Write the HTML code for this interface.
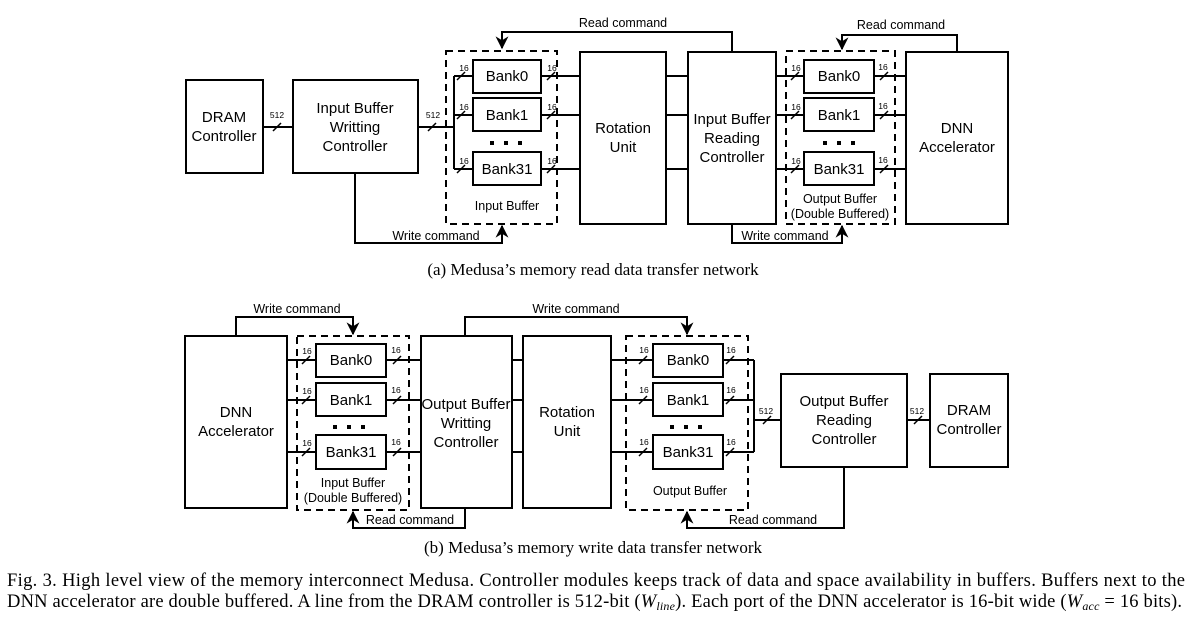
<!DOCTYPE html>
<html><head><meta charset="utf-8"><style>
html,body{margin:0;padding:0;background:#fff;width:1193px;height:627px;overflow:hidden}
svg{display:block}
text{font-family:"Liberation Sans",sans-serif;fill:#000}
.s{font-size:15px}
.m{font-size:12.5px}
.t{font-size:8.5px}
.f{font-family:"Liberation Serif",serif;font-size:17px}
.g{font-family:"Liberation Serif",serif;font-size:18.5px}
</style></head><body>
<svg width="1193" height="627" viewBox="0 0 1193 627">
<defs>
<marker id="ah" viewBox="0 0 10 10" refX="9" refY="5" markerWidth="6.5" markerHeight="6.5" orient="auto"><path d="M0,0 L10,5 L0,10 L3,5 z" fill="#000"/></marker>
</defs>
<g fill="none" stroke="#000" stroke-width="2">
<rect x="186" y="80" width="77" height="93"/>
<rect x="293" y="80" width="125" height="93"/>
<rect x="580" y="52" width="86" height="172"/>
<rect x="688" y="52" width="88" height="172"/>
<rect x="906" y="52" width="102" height="172"/>
<rect x="446" y="51" width="111" height="173" stroke-dasharray="7,5"/>
<rect x="786" y="51" width="109" height="173" stroke-dasharray="7,5"/>
<rect x="473" y="60" width="68" height="33"/>
<rect x="473" y="98" width="68" height="33"/>
<rect x="473" y="152" width="68" height="33"/>
<rect x="804" y="60" width="70" height="33"/>
<rect x="804" y="98" width="70" height="33"/>
<rect x="804" y="152" width="70" height="33"/>
<path d="M263,127H293 M418,127H454 M454,76V169 M454,76H473 M454,115H473 M454,169H473 M541,76H580 M541,115H580 M541,169H580 M666,76H688 M666,115H688 M666,169H688 M776,76H804 M776,115H804 M776,169H804 M874,76H906 M874,115H906 M874,169H906"/>
<path d="M732,52V32H502V48" marker-end="url(#ah)"/>
<path d="M957,52V35H842V49" marker-end="url(#ah)"/>
<path d="M355,173V243H502V226" marker-end="url(#ah)"/>
<path d="M732,224V243H842V226" marker-end="url(#ah)"/>
<rect x="185" y="336" width="102" height="172"/>
<rect x="421" y="336" width="91" height="172"/>
<rect x="523" y="336" width="88" height="172"/>
<rect x="781" y="374" width="126" height="93"/>
<rect x="930" y="374" width="78" height="93"/>
<rect x="297" y="336" width="112" height="174" stroke-dasharray="7,5"/>
<rect x="626" y="336" width="122" height="174" stroke-dasharray="7,5"/>
<rect x="316" y="344" width="70" height="33"/>
<rect x="316" y="383" width="70" height="33"/>
<rect x="316" y="435" width="70" height="34"/>
<rect x="653" y="344" width="70" height="33"/>
<rect x="653" y="383" width="70" height="33"/>
<rect x="653" y="435" width="70" height="34"/>
<path d="M287,360H316 M287,400H316 M287,452H316 M386,360H421 M386,400H421 M386,452H421 M512,360H523 M512,400H523 M512,452H523 M611,360H653 M611,400H653 M611,452H653 M723,360H754 M723,400H754 M723,452H754 M754,360V452 M754,420H781 M907,420H930"/>
<path d="M236,336V317H353V334" marker-end="url(#ah)"/>
<path d="M465,336V317H687V334" marker-end="url(#ah)"/>
<path d="M465,508V528H353V512" marker-end="url(#ah)"/>
<path d="M844,467V528H687V512" marker-end="url(#ah)"/>
</g>
<g stroke="#000" stroke-width="1.5">
<path d="M273,131l8,-8 M428,131l8,-8
M457,80l8,-8 M457,119l8,-8 M457,173l8,-8
M547,80l8,-8 M547,119l8,-8 M547,173l8,-8
M791,80l8,-8 M791,119l8,-8 M791,173l8,-8
M880,80l8,-8 M880,119l8,-8 M880,173l8,-8
M302,364l8,-8 M302,404l8,-8 M302,456l8,-8
M393,364l8,-8 M393,404l8,-8 M393,456l8,-8
M639,364l8,-8 M639,404l8,-8 M639,456l8,-8
M726,364l8,-8 M726,404l8,-8 M726,456l8,-8
M763,424l8,-8 M914,424l8,-8"/>
</g>
<g fill="#000">
<rect x="490" y="141" width="4" height="4"/><rect x="504" y="141" width="4" height="4"/><rect x="518" y="141" width="4" height="4"/>
<rect x="823" y="141" width="4" height="4"/><rect x="837" y="141" width="4" height="4"/><rect x="851" y="141" width="4" height="4"/>
<rect x="333" y="425" width="4" height="4"/><rect x="347" y="425" width="4" height="4"/><rect x="361" y="425" width="4" height="4"/>
<rect x="670" y="425" width="4" height="4"/><rect x="684" y="425" width="4" height="4"/><rect x="698" y="425" width="4" height="4"/>
</g>
<g text-anchor="middle">
<text class="t" x="277" y="118">512</text>
<text class="t" x="433" y="118">512</text>
<text class="t" x="464" y="71">16</text><text class="t" x="464" y="110">16</text><text class="t" x="464" y="164">16</text>
<text class="t" x="552" y="71">16</text><text class="t" x="552" y="110">16</text><text class="t" x="552" y="164">16</text>
<text class="t" x="796" y="71">16</text><text class="t" x="796" y="110">16</text><text class="t" x="796" y="164">16</text>
<text class="t" x="883" y="70">16</text><text class="t" x="883" y="109">16</text><text class="t" x="883" y="163">16</text>
<text class="t" x="307" y="354">16</text><text class="t" x="307" y="394">16</text><text class="t" x="307" y="446">16</text>
<text class="t" x="396" y="353">16</text><text class="t" x="396" y="393">16</text><text class="t" x="396" y="445">16</text>
<text class="t" x="644" y="353">16</text><text class="t" x="644" y="393">16</text><text class="t" x="644" y="445">16</text>
<text class="t" x="731" y="353">16</text><text class="t" x="731" y="393">16</text><text class="t" x="731" y="445">16</text>
<text class="t" x="766" y="414">512</text><text class="t" x="917" y="414">512</text>

<text class="s" x="224" y="122">DRAM</text><text class="s" x="224" y="141">Controller</text>
<text class="s" x="355" y="113">Input Buffer</text><text class="s" x="355" y="132">Writting</text><text class="s" x="355" y="151">Controller</text>
<text class="s" x="507" y="81">Bank0</text><text class="s" x="507" y="120">Bank1</text><text class="s" x="507" y="174">Bank31</text>
<text class="m" x="507" y="210">Input Buffer</text>
<text class="s" x="623" y="133">Rotation</text><text class="s" x="623" y="152">Unit</text>
<text class="s" x="732" y="124">Input Buffer</text><text class="s" x="732" y="143">Reading</text><text class="s" x="732" y="162">Controller</text>
<text class="s" x="839" y="81">Bank0</text><text class="s" x="839" y="120">Bank1</text><text class="s" x="839" y="174">Bank31</text>
<text class="m" x="840" y="203">Output Buffer</text><text class="m" x="840" y="218">(Double Buffered)</text>
<text class="s" x="957" y="133">DNN</text><text class="s" x="957" y="152">Accelerator</text>
<text class="m" x="623" y="27">Read command</text>
<text class="m" x="901" y="29">Read command</text>
<text class="m" x="436" y="240">Write command</text>
<text class="m" x="785" y="240">Write command</text>
<text class="f" x="593" y="275">(a) Medusa’s memory read data transfer network</text>

<text class="s" x="236" y="417">DNN</text><text class="s" x="236" y="436">Accelerator</text>
<text class="s" x="351" y="365">Bank0</text><text class="s" x="351" y="405">Bank1</text><text class="s" x="351" y="457">Bank31</text>
<text class="m" x="353" y="487">Input Buffer</text><text class="m" x="353" y="502">(Double Buffered)</text>
<text class="s" x="466" y="409">Output Buffer</text><text class="s" x="466" y="428">Writting</text><text class="s" x="466" y="447">Controller</text>
<text class="s" x="567" y="417">Rotation</text><text class="s" x="567" y="436">Unit</text>
<text class="s" x="688" y="365">Bank0</text><text class="s" x="688" y="405">Bank1</text><text class="s" x="688" y="457">Bank31</text>
<text class="m" x="690" y="495">Output Buffer</text>
<text class="s" x="844" y="406">Output Buffer</text><text class="s" x="844" y="425">Reading</text><text class="s" x="844" y="444">Controller</text>
<text class="s" x="969" y="415">DRAM</text><text class="s" x="969" y="434">Controller</text>
<text class="m" x="297" y="313">Write command</text>
<text class="m" x="576" y="313">Write command</text>
<text class="m" x="410" y="524">Read command</text>
<text class="m" x="773" y="524">Read command</text>
<text class="f" x="593" y="553">(b) Medusa’s memory write data transfer network</text>
</g>
<text class="g" x="7" y="586" textLength="1178" lengthAdjust="spacing">Fig. 3.  High level view of the memory interconnect Medusa. Controller modules keeps track of data and space availability in buffers. Buffers next to the</text>
<text class="g" x="7" y="607" textLength="1175" lengthAdjust="spacing">DNN accelerator are double buffered. A line from the DRAM controller is 512-bit (<tspan font-style="italic">W<tspan font-size="12" dy="3">line</tspan></tspan><tspan dy="-3">). Each port of the DNN accelerator is 16-bit wide (</tspan><tspan font-style="italic">W<tspan font-size="12" dy="3">acc</tspan></tspan><tspan dy="-3"> = 16 bits).</tspan></text>
</svg>
</body></html>
